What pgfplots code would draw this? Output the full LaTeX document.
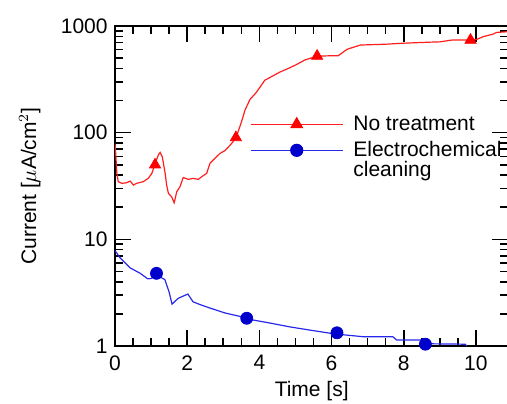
\documentclass[border=0pt]{standalone}
\usepackage{pgfplots}
\pgfplotsset{compat=1.18}
\usepackage{fontspec}
\setmainfont{Liberation Sans}

\definecolor{rline}{RGB}{255,30,30}
\definecolor{bline}{RGB}{40,40,235}
\definecolor{bmark}{RGB}{0,0,205}

\begin{document}
\fontsize{10.5}{12.5}\selectfont
\begin{tikzpicture}
  \begin{semilogyaxis}[
      scale only axis,
      width=196.7pt, height=160pt,
      xmin=0, xmax=10.9, ymin=1, ymax=1000,
      xtick={0,2,4,6,8,10}, minor x tick num=3,
      ytick={1,10,100,1000}, yticklabels={1,10,100,1000},
      tick align=inside,
      major tick length=8pt, minor tick length=4pt,
      axis line style={line width=0.9pt},
      every tick/.style={black, line width=0.8pt},
      /pgf/number format/assume math mode=true,
      xticklabel style={yshift=-1pt},
      xlabel={Time [s]},
      xlabel style={at={(axis description cs:0.5,0)}, anchor=base, yshift=-25pt},
      ylabel={Current [$\mu$A/cm$^2$]},
      ylabel shift=3pt,
      legend style={draw=none, fill=none, inner sep=0pt,
        at={(0.3425,0.744)}, anchor=north west,
        nodes={inner sep=0pt}, column sep=5pt, row sep=0pt},
      legend cell align=left,
      legend image code/.code={
        \draw[mark repeat=2,mark phase=2,#1]
          plot coordinates {(0pt,0pt) (23pt,0pt) (46pt,0pt)};},
    ]
    \addlegendimage{rline, line width=0.6pt, mark=triangle*, mark size=3.2pt, mark options={red}}
    \addlegendentry[text height=11pt, text depth=5pt]{No treatment}
    \addlegendimage{bline, line width=0.6pt, mark=*, mark size=3pt, mark options={bmark}}
    \addlegendentry[text height=8pt, text depth=2pt]{Electrochemical}
    \addlegendimage{empty legend}
    \addlegendentry[text height=8pt, text depth=2pt]{cleaning}

    % no treatment, trace
    \addplot[rline, line width=0.6pt, forget plot] coordinates {
      (0,79) (0.02,64) (0.05,42) (0.09,34.7) (0.19,33.5) (0.32,33.9)
      (0.42,35.2) (0.51,32.3) (0.6,33.5) (0.78,34.7) (0.92,37.3)
      (1.02,41.5) (1.11,51) (1.2,61.7) (1.25,65.3) (1.31,59.4)
      (1.39,41.5) (1.43,32.3) (1.48,27) (1.57,25) (1.64,22) (1.71,27.9)
      (1.8,31.1) (1.89,38) (2.03,36.5) (2.17,37.3) (2.31,36.5)
      (2.4,38.6) (2.54,41.5) (2.63,51.5) (2.77,57.5) (2.91,64)
      (3.05,68) (3.2,77) (3.35,89) (3.5,125) (3.6,162) (3.74,205)
      (3.9,235) (4.0,262) (4.15,310) (4.3,330) (4.57,370) (4.8,400)
      (5.0,430) (5.26,480) (5.6,522) (5.9,525) (6.18,525) (6.43,605)
      (6.8,663) (7.5,675) (8.0,690) (8.7,705) (9.0,710) (9.33,738)
      (9.74,738) (10.02,748) (10.2,794) (10.48,840) (10.57,870)
      (10.9,885)};
    \addplot[only marks, mark=triangle*, mark size=3.2pt, red, forget plot]
      coordinates {(1.11,50) (3.35,90) (5.6,522) (9.85,738)};

    % electrochemical cleaning, trace
    \addplot[bline, line width=0.6pt, forget plot] coordinates {
      (0,7.8) (0.03,7.6) (0.14,6.7) (0.42,5.4) (0.7,4.8) (0.91,4.26)
      (1.0,4.3) (1.16,4.6) (1.38,4.2) (1.5,3.2) (1.58,2.47) (1.75,2.8)
      (2.02,3.07) (2.16,2.6) (2.35,2.45) (2.63,2.27) (3.05,2.04)
      (3.3,1.95) (3.66,1.83) (3.8,1.76) (4.3,1.64) (4.85,1.51)
      (5.4,1.41) (5.95,1.32) (6.37,1.27) (6.9,1.22) (7.7,1.22)
      (7.8,1.14) (8.5,1.14) (8.6,1.05) (9.7,1.04) (9.75,1.0)};
    \addplot[only marks, mark=*, mark size=3pt, bmark, forget plot]
      coordinates {(1.15,4.8) (3.65,1.82) (6.15,1.33) (8.6,1.04)};
  \end{semilogyaxis}
  \pgfresetboundingbox
  \path (current axis.south west) ++(-57.5pt,-28.5pt) rectangle ++(253.5pt,201.5pt);
\end{tikzpicture}
\end{document}
